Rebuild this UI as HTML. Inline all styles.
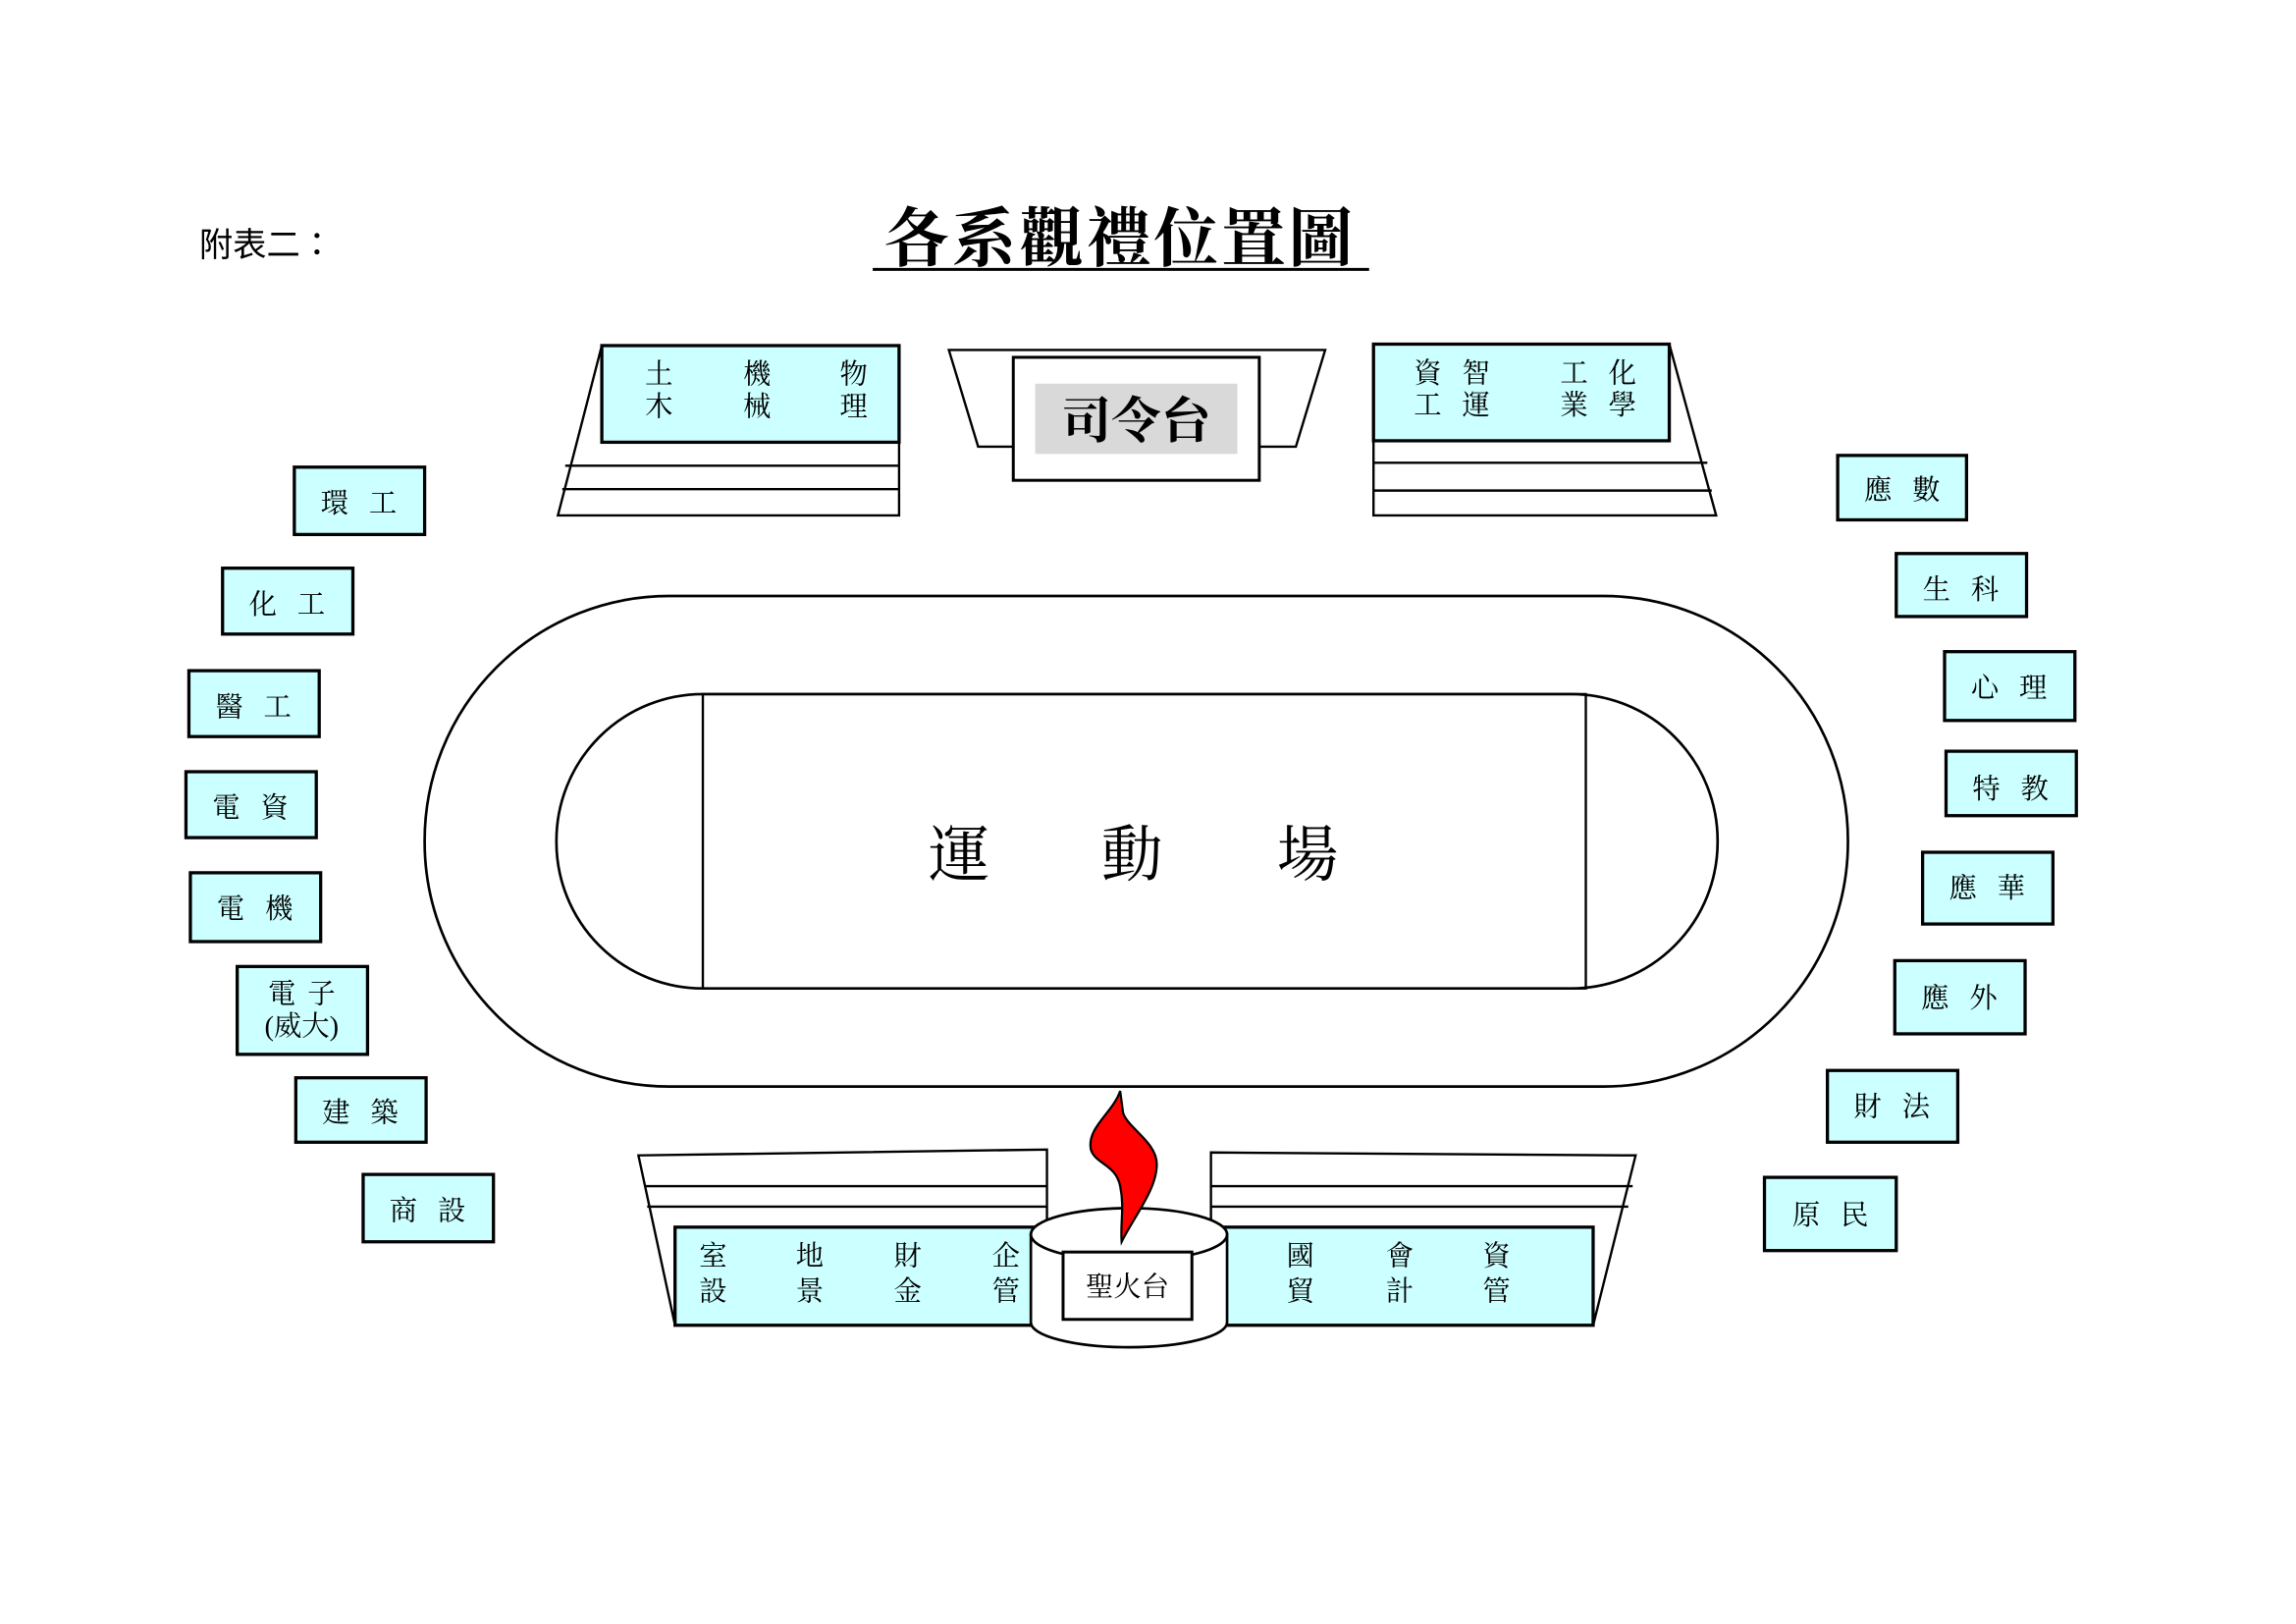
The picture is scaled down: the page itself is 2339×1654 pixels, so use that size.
<!DOCTYPE html>
<html><head><meta charset="utf-8"><style>
html,body{margin:0;padding:0;background:#fff;}
svg{display:block;}
text{font-family:"Liberation Serif","Noto Serif CJK SC","Noto Sans CJK TC",serif;fill:#000;}
.b{fill:#ccffff;stroke:#000;stroke-width:2.2;}
.l{fill:none;stroke:#000;stroke-width:1.6;}
.t{font-size:19px;text-anchor:middle;}
.s{font-size:19px;text-anchor:middle;letter-spacing:14px;}
</style></head><body>
<svg width="2339" height="1654" viewBox="0 0 1568 1109" preserveAspectRatio="none" xmlns="http://www.w3.org/2000/svg">
<text x="136" y="175" font-size="23" style="font-family:'Noto Sans CJK TC','Noto Serif CJK SC',serif">附表二：</text>
<text x="765" y="178" font-size="44" font-weight="bold" text-anchor="middle" letter-spacing="2">各系觀禮位置圖</text>
<line x1="596" y1="184" x2="935" y2="184" stroke="#000" stroke-width="2"/>

<path class="l" d="M411,236 L381,352 L614,352 L614,236"/>
<line class="l" x1="386" y1="318" x2="614" y2="318"/>
<line class="l" x1="384" y1="334" x2="614" y2="334"/>
<rect class="b" x="411" y="236" width="203" height="66"/>
<text x="450" y="262" class="t">土</text><text x="450" y="284" class="t">木</text>
<text x="517" y="262" class="t">機</text><text x="517" y="284" class="t">械</text>
<text x="583" y="262" class="t">物</text><text x="583" y="284" class="t">理</text>

<path class="l" d="M648,239 L905,239 L885,305 L668,305 Z" fill="#fff"/>
<rect x="692" y="244" width="168" height="84" fill="#fff" stroke="#000" stroke-width="2"/>
<rect x="707" y="262" width="138" height="48" fill="#d9d9d9"/>
<text x="776" y="299" font-size="34" font-weight="bold" text-anchor="middle">司令台</text>

<path class="l" d="M938,235 L938,352 L1172,352 L1140,235"/>
<line class="l" x1="938" y1="316" x2="1166" y2="316"/>
<line class="l" x1="938" y1="335" x2="1169" y2="335"/>
<rect class="b" x="938" y="235" width="202" height="66"/>
<text x="975" y="261" class="t">資</text><text x="975" y="283" class="t">工</text>
<text x="1008" y="261" class="t">智</text><text x="1008" y="283" class="t">運</text>
<text x="1075" y="261" class="t">工</text><text x="1075" y="283" class="t">業</text>
<text x="1108" y="261" class="t">化</text><text x="1108" y="283" class="t">學</text>

<rect x="290" y="407" width="972" height="335" rx="167" ry="167" fill="none" stroke="#000" stroke-width="1.8"/>
<rect x="380" y="474" width="793" height="201" rx="100" ry="100" fill="none" stroke="#000" stroke-width="1.8"/>
<rect x="480" y="474" width="603" height="201" fill="none" stroke="#000" stroke-width="1.6"/>
<text x="655" y="598" font-size="42" text-anchor="middle">運</text>
<text x="773" y="598" font-size="42" text-anchor="middle">動</text>
<text x="893" y="598" font-size="42" text-anchor="middle">場</text>

<path class="l" d="M715,840 L715,785 L436,789 L461,905"/>
<line class="l" x1="440" y1="810" x2="715" y2="810"/>
<line class="l" x1="442" y1="824" x2="715" y2="824"/>
<rect class="b" x="461" y="838" width="250" height="67"/>
<text x="487" y="864" class="t">室</text><text x="487" y="888" class="t">設</text>
<text x="553" y="864" class="t">地</text><text x="553" y="888" class="t">景</text>
<text x="620" y="864" class="t">財</text><text x="620" y="888" class="t">金</text>
<text x="687" y="864" class="t">企</text><text x="687" y="888" class="t">管</text>

<path class="l" d="M827,840 L827,787 L1117,789 L1088,905"/>
<line class="l" x1="827" y1="810" x2="1115" y2="810"/>
<line class="l" x1="827" y1="824" x2="1112" y2="824"/>
<rect class="b" x="832" y="838" width="256" height="67"/>
<text x="888" y="864" class="t">國</text><text x="888" y="888" class="t">貿</text>
<text x="956" y="864" class="t">會</text><text x="956" y="888" class="t">計</text>
<text x="1022" y="864" class="t">資</text><text x="1022" y="888" class="t">管</text>

<path d="M704,843 L704,903 A67,17 0 0 0 838,903 L838,843 Z" fill="#fff" stroke="#000" stroke-width="1.8"/>
<ellipse cx="771" cy="843" rx="67" ry="18" fill="#fff" stroke="#000" stroke-width="1.8"/>
<rect x="726" y="855" width="88" height="46" fill="#fff" stroke="#000" stroke-width="2"/>
<text x="770" y="885" font-size="19" text-anchor="middle">聖火台</text>
<path d="M765,745 C760,760 742,770 745,785 C748,795 762,795 765,810 C768,825 765,835 766,848 C775,830 790,812 790,795 C790,780 770,770 767,760 Z" fill="#ff0000" stroke="#000" stroke-width="1.5"/>

<rect class="b" x="201" y="319" width="89" height="46"/><text x="252" y="350" class="s">環工</text>
<rect class="b" x="152" y="388" width="89" height="45"/><text x="203" y="419" class="s">化工</text>
<rect class="b" x="129" y="458" width="89" height="45"/><text x="180" y="489" class="s">醫工</text>
<rect class="b" x="127" y="527" width="89" height="45"/><text x="178" y="558" class="s">電資</text>
<rect class="b" x="130" y="596" width="89" height="47"/><text x="181" y="627" class="s">電機</text>
<rect class="b" x="162" y="660" width="89" height="60"/><text x="210" y="685" class="t" letter-spacing="8">電子</text><text x="206" y="707" class="t">(威大)</text>
<rect class="b" x="202" y="736" width="89" height="44"/><text x="253" y="766" class="s">建築</text>
<rect class="b" x="248" y="802" width="89" height="46"/><text x="299" y="833" class="s">商設</text>

<rect class="b" x="1255" y="311" width="88" height="44"/><text x="1306" y="341" class="s">應數</text>
<rect class="b" x="1295" y="378" width="89" height="43"/><text x="1346" y="409" class="s">生科</text>
<rect class="b" x="1328" y="445" width="89" height="47"/><text x="1379" y="476" class="s">心理</text>
<rect class="b" x="1329" y="513" width="89" height="44"/><text x="1380" y="545" class="s">特教</text>
<rect class="b" x="1313" y="582" width="89" height="49"/><text x="1364" y="613" class="s">應華</text>
<rect class="b" x="1294" y="656" width="89" height="50"/><text x="1345" y="688" class="s">應外</text>
<rect class="b" x="1248" y="731" width="89" height="49"/><text x="1299" y="762" class="s">財法</text>
<rect class="b" x="1205" y="804" width="90" height="50"/><text x="1257" y="836" class="s">原民</text>
</svg>
</body></html>
